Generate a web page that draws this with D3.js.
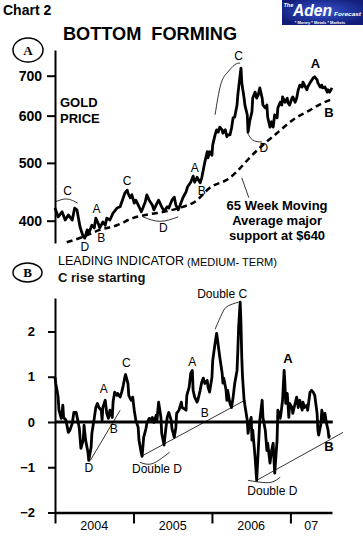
<!DOCTYPE html>
<html>
<head>
<meta charset="utf-8">
<script src="https://cdn.jsdelivr.net/npm/d3@7"></script>
<style>
  body { margin: 0; background: #fff; }
  svg { display: block; font-family: "Liberation Sans", Arial, sans-serif; }
</style>
</head>
<body>
<script>
// ---- data (decimal year, value) ----
const goldPrice = [
  [2004.00,420],[2004.04,406],[2004.09,414],[2004.13,401],[2004.17,409],[2004.22,401],[2004.25,420],[2004.28,417],
  [2004.32,390],[2004.36,376],[2004.38,374],[2004.41,386],[2004.43,381],[2004.47,393],[2004.50,389],[2004.52,404],
  [2004.55,396],[2004.57,389],[2004.61,398],[2004.64,393],[2004.66,404],[2004.70,401],[2004.74,412],[2004.79,420],
  [2004.83,422],[2004.87,437],[2004.89,445],[2004.92,450],[2004.93,445],[2004.96,437],[2004.98,442],[2005.01,428],
  [2005.03,433],[2005.06,425],[2005.10,414],[2005.12,420],[2005.15,430],[2005.17,442],[2005.20,433],[2005.24,425],
  [2005.26,417],[2005.30,428],[2005.32,433],[2005.36,422],[2005.39,415],[2005.43,422],[2005.45,420],[2005.49,433],
  [2005.52,438],[2005.54,425],[2005.57,417],[2005.61,430],[2005.63,437],[2005.67,447],[2005.69,456],[2005.73,464],
  [2005.76,475],[2005.78,464],[2005.81,473],[2005.85,463],[2005.87,472],[2005.89,487],[2005.91,502],[2005.94,522],
  [2005.95,510],[2005.97,522],[2006.00,515],[2006.01,536],[2006.04,557],[2006.06,568],[2006.08,563],[2006.10,574],
  [2006.13,568],[2006.14,561],[2006.17,568],[2006.19,553],[2006.20,557],[2006.23,557],[2006.25,572],[2006.27,595],
  [2006.29,597],[2006.32,625],[2006.33,650],[2006.34,668],[2006.37,721],[2006.38,683],[2006.39,668],[2006.41,642],
  [2006.42,625],[2006.45,602],[2006.46,563],[2006.48,586],[2006.51,609],[2006.52,642],[2006.55,657],[2006.57,642],
  [2006.59,650],[2006.61,668],[2006.64,642],[2006.65,625],[2006.68,618],[2006.70,625],[2006.71,597],[2006.74,574],
  [2006.76,586],[2006.78,574],[2006.80,602],[2006.83,595],[2006.84,618],[2006.87,632],[2006.89,625],[2006.90,645],
  [2006.93,632],[2006.96,642],[2006.97,630],[2006.99,625],[2007.02,642],[2007.03,645],[2007.06,632],[2007.08,642],
  [2007.10,663],[2007.12,675],[2007.15,670],[2007.16,683],[2007.18,675],[2007.21,663],[2007.22,670],[2007.25,681],
  [2007.29,694],[2007.31,697],[2007.34,689],[2007.35,681],[2007.38,670],[2007.40,675],[2007.41,668],[2007.44,670],
  [2007.47,657],[2007.48,663],[2007.50,657],[2007.53,668]
];

const movingAvg65 = [
  [2004.15,368],[2004.36,376],[2004.57,386],[2004.79,393],[2004.99,404],[2005.20,410],[2005.43,415],
  [2005.63,422],[2005.78,430],[2005.97,454],[2006.23,472],[2006.36,490],[2006.48,510],[2006.68,540],
  [2006.83,561],[2007.03,590],[2007.25,613],[2007.41,630],[2007.54,640]
];

const leadingIndicator = [
  [2004.00,0.99],[2004.01,0.85],[2004.03,0.66],[2004.04,0.55],[2004.05,0.26],[2004.08,0.08],[2004.10,0.37],
  [2004.11,0.10],[2004.14,0.04],[2004.17,-0.23],[2004.19,-0.18],[2004.22,-0.03],[2004.24,0.21],[2004.27,0.21],
  [2004.29,0.04],[2004.31,-0.14],[2004.33,-0.58],[2004.36,-0.40],[2004.37,-0.07],[2004.39,-0.40],[2004.42,-0.67],
  [2004.43,-0.85],[2004.46,-0.56],[2004.47,-0.25],[2004.50,0.08],[2004.52,0.32],[2004.54,0.41],[2004.56,0.32],
  [2004.59,0.26],[2004.60,0.04],[2004.61,0.32],[2004.64,0.48],[2004.66,0.19],[2004.68,0.08],[2004.70,0.26],
  [2004.73,0.10],[2004.74,0.44],[2004.76,0.66],[2004.79,0.59],[2004.80,0.63],[2004.83,0.55],[2004.85,0.66],
  [2004.87,0.81],[2004.89,0.99],[2004.90,1.05],[2004.93,0.85],[2004.94,0.59],[2004.97,0.48],[2004.99,0.55],
  [2005.01,0.26],[2005.03,0.04],[2005.06,-0.12],[2005.07,-0.40],[2005.10,-0.69],[2005.11,-0.76],[2005.13,-0.34],
  [2005.16,-0.14],[2005.17,-0.03],[2005.20,0.08],[2005.22,0.04],[2005.24,0.10],[2005.26,-0.01],[2005.29,0.15],
  [2005.30,0.04],[2005.32,0.44],[2005.35,0.10],[2005.36,-0.25],[2005.39,-0.51],[2005.41,-0.18],[2005.43,0.10],
  [2005.45,0.21],[2005.48,0.04],[2005.49,-0.14],[2005.52,-0.34],[2005.54,-0.12],[2005.55,0.19],[2005.58,0.26],
  [2005.61,0.44],[2005.62,0.32],[2005.64,0.30],[2005.67,0.26],[2005.68,0.59],[2005.71,0.77],[2005.73,1.08],
  [2005.75,1.14],[2005.76,0.70],[2005.78,0.55],[2005.81,0.44],[2005.82,0.48],[2005.85,0.70],[2005.87,0.88],
  [2005.89,0.97],[2005.91,0.85],[2005.94,0.92],[2005.95,0.77],[2005.97,0.66],[2006.00,0.99],[2006.01,1.36],
  [2006.04,1.74],[2006.06,1.96],[2006.08,1.70],[2006.10,1.43],[2006.13,1.08],[2006.14,0.86],[2006.15,0.97],
  [2006.18,0.70],[2006.19,0.48],[2006.20,0.70],[2006.23,0.41],[2006.25,0.32],[2006.27,0.55],[2006.29,0.85],
  [2006.32,1.14],[2006.33,1.58],[2006.34,2.09],[2006.36,2.65],[2006.37,2.18],[2006.38,1.43],[2006.39,0.99],
  [2006.41,0.48],[2006.43,0.26],[2006.45,0.04],[2006.46,-0.25],[2006.48,-0.03],[2006.50,0.10],[2006.51,-0.40],
  [2006.52,-0.18],[2006.55,-0.78],[2006.57,-1.29],[2006.59,-0.63],[2006.61,0.04],[2006.64,0.48],[2006.65,0.10],
  [2006.68,-0.18],[2006.70,-0.63],[2006.71,-0.47],[2006.74,-0.91],[2006.76,-0.63],[2006.78,-0.47],[2006.80,-1.13],
  [2006.83,-0.40],[2006.84,0.26],[2006.85,0.21],[2006.87,0.08],[2006.88,0.19],[2006.90,0.48],[2006.92,1.14],
  [2006.93,0.85],[2006.94,0.41],[2006.96,0.63],[2006.98,0.10],[2006.99,0.41],[2007.02,0.32],[2007.03,0.19],
  [2007.06,0.41],[2007.08,0.55],[2007.10,0.32],[2007.12,0.48],[2007.15,0.26],[2007.16,0.44],[2007.18,0.32],
  [2007.21,0.37],[2007.22,0.26],[2007.25,0.66],[2007.27,0.70],[2007.29,0.66],[2007.31,0.59],[2007.34,0.19],
  [2007.35,-0.18],[2007.36,-0.29],[2007.39,-0.03],[2007.40,0.26],[2007.43,0.04],[2007.44,0.19],[2007.46,-0.03],
  [2007.48,-0.18],[2007.49,-0.34],[2007.50,-0.29]
];

const priceTicks = [400, 500, 600, 700];
const indicatorTicks = [-2, -1, 0, 1, 2];
const yearTicks = [2004, 2005, 2006, 2007];
const yearLabels = ["2004", "2005", "2006", "07"];

// annotations, in data units
const priceNotes = [
  { t: 2004.16, v: 442, s: "C" }, { t: 2004.53, v: 412, s: "A" }, { t: 2004.38, v: 356, s: "D" },
  { t: 2004.59, v: 368, s: "B" }, { t: 2004.92, v: 459, s: "C" }, { t: 2005.38, v: 383, s: "D" },
  { t: 2005.78, v: 483, s: "A" }, { t: 2005.87, v: 442, s: "B" }, { t: 2006.34, v: 744, s: "C" },
  { t: 2006.66, v: 522, s: "D" }, { t: 2007.32, v: 721, s: "A", bold: true }, { t: 2007.49, v: 597, s: "B", bold: true }
];
const priceCurves = [
  [[2004.00,430],[2004.15,435],[2004.29,428]],
  [[2005.12,406],[2005.34,399],[2005.57,406]],
  [[2006.04,602],[2006.11,675],[2006.19,707],[2006.29,730],[2006.36,735]],
  [[2006.45,563],[2006.52,546],[2006.64,542]],
  [[2006.38,472],[2006.47,437]]
];
const indicatorNotes = [
  { t: 2004.62, v: 0.63, s: "A" }, { t: 2004.91, v: 1.21, s: "C" }, { t: 2004.43, v: -1.11, s: "D" },
  { t: 2004.75, v: -0.25, s: "B" }, { t: 2005.30, v: -1.13, s: "Double D" }, { t: 2005.75, v: 1.23, s: "A" },
  { t: 2005.91, v: 0.10, s: "B" }, { t: 2006.13, v: 2.73, s: "Double C" }, { t: 2006.97, v: 1.30, s: "A", bold: true },
  { t: 2006.77, v: -1.62, s: "Double D" }, { t: 2007.49, v: -0.63, s: "B", bold: true }
];
const indicatorCurves = [
  [[2004.45,-0.85],[2004.83,0.26]],
  [[2005.08,-0.89],[2005.22,-0.93],[2005.36,-0.80],[2005.46,-0.67]],
  [[2005.12,-0.74],[2006.42,0.48]],
  [[2006.04,2.05],[2006.13,2.40],[2006.20,2.56],[2006.34,2.65]],
  [[2006.46,-1.29],[2006.61,-1.33],[2006.76,-1.33],[2006.87,-1.22]],
  [[2006.57,-1.29],[2007.67,-0.23]]
];

// ---- layout ----
const width = 363, height = 547;
const svg = d3.select("body").append("svg").attr("width", width).attr("height", height);

const x = d3.scaleLinear().domain([2004, 2007.53]).range([55, 332]);
const yPrice = d3.scaleLog().domain([367, 773]).range([243, 50]);
const yInd = d3.scaleLinear().domain([-2, 2.74]).range([512.5, 298]);

// headings
svg.append("text").attr("x", 3).attr("y", 15).text("Chart 2")
  .attr("font-size", 14).attr("font-weight", "bold");
svg.append("text").attr("x", 63).attr("y", 40).text("BOTTOM\u00a0\u00a0FORMING")
  .attr("font-size", 19).attr("font-weight", "bold")
  .attr("textLength", 174).attr("lengthAdjust", "spacingAndGlyphs");

// logo
const defs = svg.append("defs");
const lg = defs.append("radialGradient").attr("id", "logoBg").attr("cx", "50%").attr("cy", "45%").attr("r", "60%");
lg.append("stop").attr("offset", "0%").attr("stop-color", "#3a55d0");
lg.append("stop").attr("offset", "100%").attr("stop-color", "#101c78");
const logo = svg.append("g").attr("transform", "translate(282,0)");
logo.append("rect").attr("width", 81).attr("height", 25).attr("fill", "url(#logoBg)");
logo.append("text").attr("x", 1.5).attr("y", 6.5).text("The")
  .attr("font-size", 5.5).attr("font-weight", "bold").attr("font-style", "italic").attr("fill", "#fff");
logo.append("text").attr("x", 11).attr("y", 15.5).text("Aden")
  .attr("font-size", 16).attr("font-weight", "bold").attr("font-style", "italic").attr("fill", "#fff")
  .attr("textLength", 39).attr("lengthAdjust", "spacingAndGlyphs");
logo.append("text").attr("x", 52).attr("y", 16).text("Forecast")
  .attr("font-size", 6).attr("font-weight", "bold").attr("font-style", "italic").attr("fill", "#fff")
  .attr("textLength", 27).attr("lengthAdjust", "spacingAndGlyphs");
logo.append("text").attr("x", 38).attr("y", 23.5).attr("text-anchor", "middle").text("* Money * Metals * Markets")
  .attr("font-size", 4).attr("font-weight", "bold").attr("fill", "#fff");

// circled panel letters
function panelMark(cx, cy, rx, ry, letter) {
  svg.append("ellipse").attr("cx", cx).attr("cy", cy).attr("rx", rx).attr("ry", ry)
    .attr("fill", "none").attr("stroke", "#000").attr("stroke-width", 1.5);
  svg.append("text").attr("x", cx).attr("y", cy + 4.5).attr("text-anchor", "middle").text(letter)
    .attr("font-family", "'Liberation Serif', 'Times New Roman', serif")
    .attr("font-size", 13).attr("font-weight", "bold");
}
panelMark(28, 50, 15, 12, "A");
panelMark(27.5, 272.5, 14.5, 9.5, "B");

// ---- top panel: gold price ----
const axP = svg.append("g").attr("transform", "translate(55,0)")
  .call(d3.axisLeft(yPrice).tickValues(priceTicks).tickFormat(d3.format("d"))
    .tickSize(8).tickSizeOuter(0).tickPadding(5));
axP.select(".domain").attr("stroke-width", 2);
axP.selectAll(".tick line").attr("stroke-width", 2);
axP.selectAll(".tick text").attr("font-size", 14).attr("font-weight", "bold")
  .attr("font-family", "'Liberation Sans', Arial, sans-serif").attr("fill", "#000");

svg.append("text").attr("x", 60).attr("y", 107).text("GOLD").attr("font-size", 13).attr("font-weight", "bold");
svg.append("text").attr("x", 60).attr("y", 123).text("PRICE").attr("font-size", 13).attr("font-weight", "bold");

const linePrice = d3.line().x(d => x(d[0])).y(d => yPrice(d[1]));
svg.append("path").datum(movingAvg65).attr("d", linePrice.curve(d3.curveMonotoneX))
  .attr("fill", "none").attr("stroke", "#000").attr("stroke-width", 2.5).attr("stroke-dasharray", "6,4");
svg.append("path").datum(goldPrice).attr("d", d3.line().x(d => x(d[0])).y(d => yPrice(d[1])))
  .attr("fill", "none").attr("stroke", "#000").attr("stroke-width", 2.8).attr("stroke-linejoin", "round");

const curvePrice = d3.line().x(d => x(d[0])).y(d => yPrice(d[1])).curve(d3.curveNatural);
svg.append("g").selectAll("path").data(priceCurves).join("path")
  .attr("d", curvePrice).attr("fill", "none").attr("stroke", "#000").attr("stroke-width", 0.8);
svg.append("g").selectAll("text").data(priceNotes).join("text")
  .attr("x", d => x(d.t)).attr("y", d => yPrice(d.v)).attr("text-anchor", "middle")
  .attr("font-size", d => d.bold ? 13 : 12).attr("font-weight", d => d.bold ? "bold" : "normal")
  .text(d => d.s);

const maNote = svg.append("text").attr("text-anchor", "middle")
  .attr("font-size", 13).attr("font-weight", "bold");
["65 Week Moving", "Average major", "support at $640"].forEach((s, i) => {
  maNote.append("tspan").attr("x", x(2006.83)).attr("y", yPrice(417) + i * 15).text(s);
});

// ---- bottom panel: leading indicator ----
svg.append("text").attr("x", 58).attr("y", 265).text("LEADING INDICATOR")
  .attr("font-size", 12).attr("textLength", 126).attr("lengthAdjust", "spacingAndGlyphs");
svg.append("text").attr("x", 187).attr("y", 266).text("(MEDIUM- TERM)")
  .attr("font-size", 10).attr("textLength", 90).attr("lengthAdjust", "spacingAndGlyphs");
svg.append("text").attr("x", 58).attr("y", 282).text("C rise starting")
  .attr("font-size", 13).attr("font-weight", "bold").attr("fill", "#111");

const axI = svg.append("g").attr("transform", "translate(55,0)")
  .call(d3.axisLeft(yInd).tickValues(indicatorTicks).tickFormat(d3.format("d"))
    .tickSize(7).tickSizeOuter(0).tickPadding(13));
axI.select(".domain").attr("stroke-width", 2);
axI.selectAll(".tick line").attr("stroke-width", 2);
axI.selectAll(".tick text").attr("font-size", 13).attr("font-weight", "bold")
  .attr("font-family", "'Liberation Sans', Arial, sans-serif").attr("fill", "#000");

const axX = svg.append("g").attr("transform", `translate(0,${yInd(-2)})`)
  .call(d3.axisBottom(x).tickValues(yearTicks).tickFormat("").tickSize(11).tickSizeOuter(0));
axX.select(".domain").attr("stroke-width", 2.5);
axX.selectAll(".tick line").attr("stroke-width", 2);

const yearMid = yearTicks.map(yr => (yr + Math.min(yr + 1, x.domain()[1])) / 2);
svg.append("g").selectAll("text").data(yearLabels).join("text")
  .attr("x", (d, i) => x(yearMid[i])).attr("y", 530).attr("text-anchor", "middle")
  .attr("font-size", 12.5).text(d => d);

svg.append("line").attr("x1", x(2004)).attr("x2", x(2007.54)).attr("y1", yInd(0)).attr("y2", yInd(0))
  .attr("stroke", "#000").attr("stroke-width", 3);

svg.append("path").datum(leadingIndicator).attr("d", d3.line().x(d => x(d[0])).y(d => yInd(d[1])))
  .attr("fill", "none").attr("stroke", "#000").attr("stroke-width", 2.8).attr("stroke-linejoin", "round");

const curveInd = d3.line().x(d => x(d[0])).y(d => yInd(d[1])).curve(d3.curveNatural);
svg.append("g").selectAll("path").data(indicatorCurves).join("path")
  .attr("d", curveInd).attr("fill", "none").attr("stroke", "#000").attr("stroke-width", 0.8);
svg.append("g").selectAll("text").data(indicatorNotes).join("text")
  .attr("x", d => x(d.t)).attr("y", d => yInd(d.v)).attr("text-anchor", "middle")
  .attr("font-size", d => d.bold ? 13 : 12).attr("font-weight", d => d.bold ? "bold" : "normal")
  .text(d => d.s);
</script>
</body>
</html>
